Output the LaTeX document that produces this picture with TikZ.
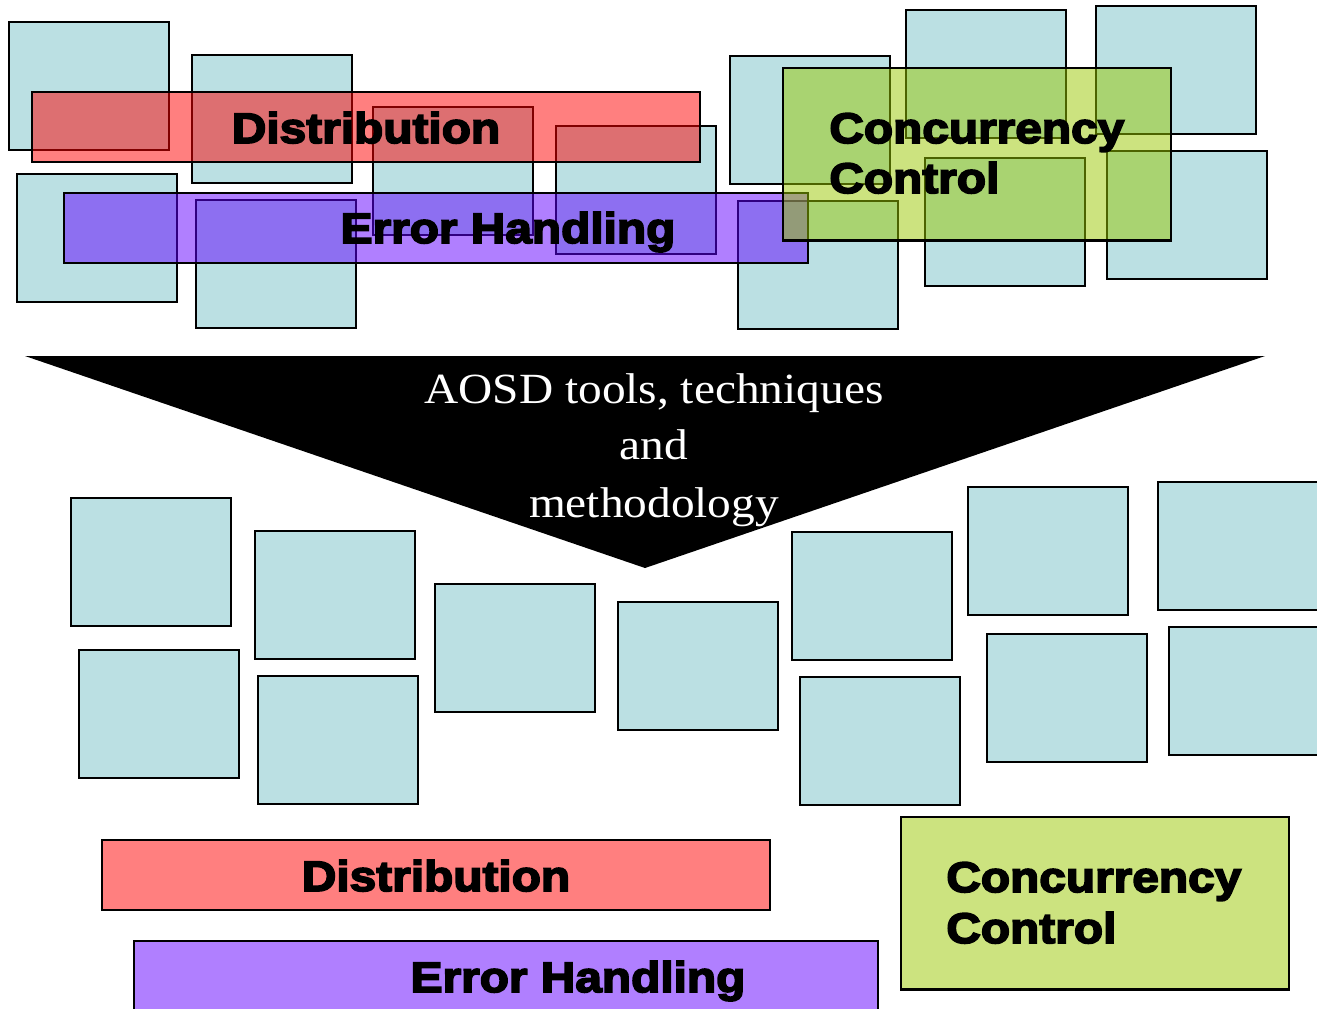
\documentclass[tikz,border=0pt]{standalone}
\usepackage{fontspec}
\newfontfamily\heavyfont{Liberation Sans}[BoldFeatures={FakeBold=4}, FakeStretch=1.12]
\newfontfamily\serifwhite{Liberation Serif}[FakeStretch=1.1]
\definecolor{boxblue}{RGB}{187,224,227}
\definecolor{distred}{RGB}{255,0,0}
\definecolor{errpurple}{RGB}{97,0,255}
\definecolor{ccgreen}{RGB}{153,199,0}
\tikzset{
  blk/.style={draw, line width=1.2pt, fill=boxblue, inner sep=0pt, outer sep=0pt,
              minimum width=3.2cm, minimum height=2.56cm, anchor=north west},
  bar/.style={draw, line width=1.2pt, fill opacity=0.5, inner sep=0pt, outer sep=0pt,
              anchor=north west},
  distbar/.style={bar, fill=distred, minimum width=13.36cm, minimum height=1.4cm},
  errbar/.style={bar, fill=errpurple, minimum width=14.88cm, minimum height=1.4cm},
  ccbar/.style={bar, fill=ccgreen, minimum width=7.76cm, minimum height=3.45cm},
  heavy/.style={font=\heavyfont\bfseries\fontsize{24.3}{28}\selectfont, inner sep=0pt},
  aosd/.style={text=white, font=\serifwhite\fontsize{24.5}{32}\selectfont,
               inner sep=0pt, anchor=base}
}
\begin{document}
\begin{tikzpicture}[x=0.02cm, y=-0.02cm]
\useasboundingbox (0,0) rectangle (1317,1008);
\clip (0,0) rectangle (1317,1008);

% ---- tangled modules: components cut across by concerns ----
\node[blk] (t1)  at (9,22) {};
\node[blk] (t2)  at (192,55) {};
\node[blk] (t3)  at (17,174) {};
\node[blk] (t4)  at (196,200) {};
\node[blk] (t5)  at (373,107) {};
\node[blk] (t6)  at (556,126) {};
\node[blk] (t7)  at (730,56) {};
\node[blk] (t8)  at (906,10) {};
\node[blk] (t9)  at (1096,6) {};
\node[blk] (t10) at (738,201) {};
\node[blk] (t11) at (925,158) {};
\node[blk] (t12) at (1107,151) {};

\node[distbar] (tdist) at (32,92) {};
\node[errbar]  (terr)  at (64,193) {};
\node[ccbar]   (tcc)   at (783,68) {};

\node[heavy, anchor=base]      (tdistT) at (366,143) {Distribution};
\node[heavy, anchor=base]      (terrT)  at (508,243) {Error Handling};
\node[heavy, anchor=base west] (tccA)   at (829,143) {Concurrency};
\node[heavy, anchor=base west] (tccB)   at (829,193) {Control};

% ---- the transformation arrow ----
\coordinate (arL) at (25,356);
\coordinate (arR) at (1265,356);
\coordinate (arT) at (645,568);
\fill[black] (arL) -- (arR) -- (arT) -- cycle;
\node[aosd] (aosd1) at (654,403) {AOSD tools, techniques};
\node[aosd] (aosd2) at (654,459) {and};
\node[aosd] (aosd3) at (654,517) {methodology};

% ---- separated modules ----
\node[blk] (b1)  at (71,498) {};
\node[blk] (b2)  at (255,531) {};
\node[blk] (b3)  at (79,650) {};
\node[blk] (b4)  at (258,676) {};
\node[blk] (b5)  at (435,584) {};
\node[blk] (b6)  at (618,602) {};
\node[blk] (b7)  at (792,532) {};
\node[blk] (b8)  at (800,677) {};
\node[blk] (b9)  at (968,487) {};
\node[blk] (b10) at (1158,482) {};
\node[blk] (b11) at (987,634) {};
\node[blk] (b12) at (1169,627) {};

\node[distbar] (bdist) at (102,840) {};
\node[errbar]  (berr)  at (134,941) {};
\node[ccbar]   (bcc)   at (901,817) {};

\node[heavy, anchor=base]      (bdistT) at (436,891) {Distribution};
\node[heavy, anchor=base]      (berrT)  at (578,992) {Error Handling};
\node[heavy, anchor=base west] (bccA)   at (946,892) {Concurrency};
\node[heavy, anchor=base west] (bccB)   at (946,943) {Control};
\end{tikzpicture}
\end{document}
